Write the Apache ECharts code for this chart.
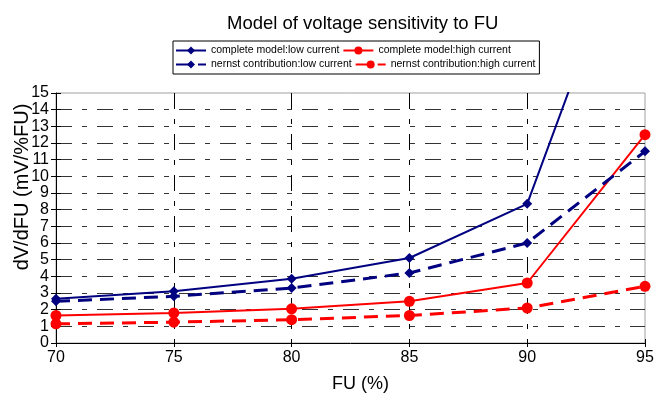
<!DOCTYPE html>
<html><head><meta charset="utf-8">
<script src="https://cdn.jsdelivr.net/npm/echarts@6/dist/echarts.min.js"></script>
<style>html,body{margin:0;padding:0;background:#fff}#c{width:655px;height:393px}</style>
</head><body><div id="c"></div>
<script>
const fu = [70, 75, 80, 85, 90, 95];
const completeLow = [2.65, 3.1, 3.85, 5.1, 8.35, 27.5];
const nernstLow = [2.5, 2.8, 3.3, 4.2, 6.0, 11.5];
const completeHigh = [1.65, 1.8, 2.05, 2.5, 3.6, 12.5];
const nernstHigh = [1.15, 1.25, 1.4, 1.65, 2.1, 3.4];
const names = ['complete model:low current', 'complete model:high current', 'nernst contribution:low current', 'nernst contribution:high current'];
const NAVY = '#000080', RED = '#ff0000';
const pair = arr => fu.map((x, i) => [x, arr[i]]);
const font = 'Liberation Sans, Arial, sans-serif';
const chart = echarts.init(document.getElementById('c'));
const gridDash = [16, 10, 5, 10];
chart.setOption({
  animation: false,
  textStyle: {fontFamily: font},
  title: {text: 'Model of voltage sensitivity to FU', left: 222, top: 9,
    textStyle: {fontFamily: font, fontSize: 18.5, fontWeight: 'normal', color: '#000'}},
  legend: {
    left: 173, top: 41, width: 365, padding: [4, 4, 4, 2],
    borderColor: '#000', borderWidth: 1,
    itemWidth: 30, itemHeight: 10, itemGap: 3,
    data: names,
    formatter: n => '{t|' + n + '}',
    textStyle: {fontFamily: font, fontSize: 10.5, color: '#000',
      rich: {t: {width: 146, fontFamily: font, fontSize: 10.5, color: '#000', height: 12}}}
  },
  grid: {left: 56, right: 10, top: 93, bottom: 50, outerBoundsMode: 'none', containLabel: false,
    show: true, borderColor: '#a0a0a0', borderWidth: 1},
  xAxis: [{
    type: 'value', min: 70, max: 95, interval: 5,
    name: 'FU (%)', nameLocation: 'middle', nameGap: 32, nameMoveOverlap: false,
    nameTextStyle: {fontFamily: font, fontSize: 18, color: '#000', padding: [0, 0, 0, 20]},
    axisLine: {lineStyle: {color: '#000'}},
    axisTick: {length: 4, lineStyle: {color: '#000'}},
    axisLabel: {fontFamily: font, fontSize: 16, color: '#000', margin: 7},
    splitLine: {show: true, showMinLine: false, showMaxLine: false, lineStyle: {color: '#000', type: gridDash}}
  }, {
    type: 'value', min: 70, max: 95, interval: 5, position: 'bottom',
    axisLine: {show: false}, axisLabel: {show: false}, splitLine: {show: false},
    axisTick: {inside: true, length: 4, lineStyle: {color: '#000'}}
  }],
  yAxis: [{
    type: 'value', min: 0, max: 15, interval: 1,
    name: 'dV/dFU (mV/%FU)', nameLocation: 'middle', nameGap: 24, nameMoveOverlap: false,
    nameTextStyle: {fontFamily: font, fontSize: 20, color: '#000', padding: [0, 0, 0, 62]},
    axisLine: {show: true, lineStyle: {color: '#000'}},
    axisTick: {show: true, length: 5, lineStyle: {color: '#000'}},
    axisLabel: {fontFamily: font, fontSize: 16, color: '#000', margin: 7},
    splitLine: {show: true, showMinLine: false, showMaxLine: false, lineStyle: {color: '#333', type: gridDash}}
  }, {
    type: 'value', min: 0, max: 15, interval: 1, position: 'left',
    axisLine: {show: false}, axisLabel: {show: false}, splitLine: {show: false},
    axisTick: {show: true, inside: true, length: 5, lineStyle: {color: '#000'}}
  }],
  series: [
    {name: names[0], type: 'line', data: pair(completeLow), symbol: 'diamond', symbolSize: 10,
      itemStyle: {color: NAVY}, lineStyle: {color: NAVY, width: 2}},
    {name: names[1], type: 'line', data: pair(completeHigh), symbol: 'circle', symbolSize: 11,
      itemStyle: {color: RED}, lineStyle: {color: RED, width: 2}},
    {name: names[2], type: 'line', data: pair(nernstLow), symbol: 'diamond', symbolSize: 10,
      itemStyle: {color: NAVY}, lineStyle: {color: NAVY, width: 3, type: [14, 8]}},
    {name: names[3], type: 'line', data: pair(nernstHigh), symbol: 'circle', symbolSize: 11,
      itemStyle: {color: RED}, lineStyle: {color: RED, width: 3, type: [14, 8]}}
  ]
});
</script></body></html>
